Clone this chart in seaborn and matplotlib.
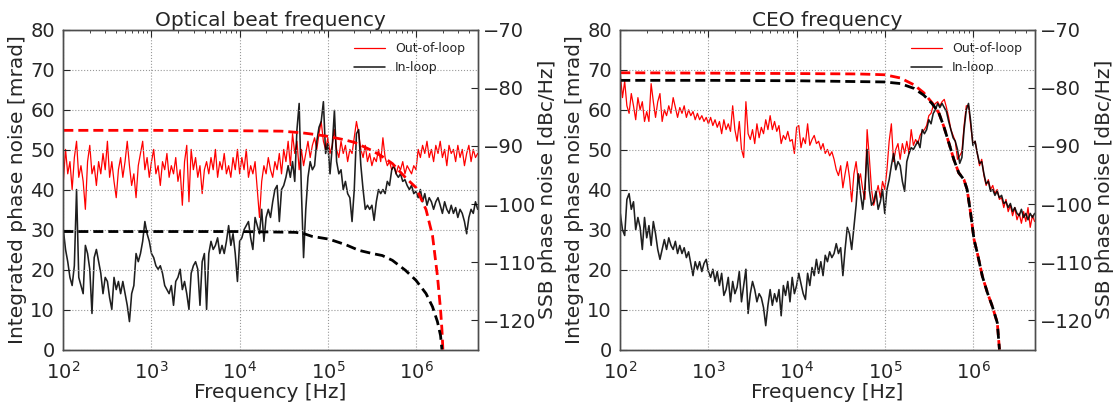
import numpy as np
import pandas as pd
import matplotlib
matplotlib.use("Agg")
import matplotlib.pyplot as plt
import seaborn as sns

# ---------------- data ----------------
# analyzer frequency grid: 40 points per decade from 100 Hz
N_PTS = 189
freq = 10 ** (2 + np.arange(N_PTS) / 40.0)

# Optical beat: SSB phase noise [dBc/Hz]
beat_in_ssb = [
    -104.4, -107.8, -109.9, -112.6, -114.0, -110.6, -97.5, -112.6, -114.0, -115.4,
    -107.1, -108.5, -111.2, -118.8, -109.2, -107.8, -109.9, -111.9, -115.4, -112.6,
    -113.3, -116.1, -118.1, -112.6, -114.7, -113.3, -115.4, -113.3, -115.4, -117.4,
    -120.2, -115.4, -114.0, -108.5, -109.9, -108.5, -106.4, -103.0, -105.1, -106.4,
    -108.5, -109.2, -110.6, -111.2, -110.6, -111.9, -114.0, -114.7, -115.4, -114.0,
    -117.4, -113.3, -112.6, -111.2, -114.7, -113.3, -115.4, -118.1, -111.9, -110.6,
    -109.9, -111.2, -117.4, -109.9, -108.5, -118.1, -108.5, -106.4, -107.8, -107.1,
    -105.8, -108.5, -107.1, -108.5, -106.4, -103.7, -107.1, -105.1, -108.5, -113.3,
    -106.4, -105.8, -104.4, -103.7, -103.0, -105.8, -107.8, -102.3, -103.7, -105.1,
    -100.9, -106.4, -102.3, -100.9, -102.3, -99.6, -97.5, -96.8, -103.0, -97.5,
    -96.8, -95.4, -93.4, -95.4, -92.7, -96.1, -87.2, -82.7, -97.5, -109.2,
    -100.9, -95.4, -92.7, -94.1, -93.4, -89.2, -86.8, -85.8, -82.4, -91.3,
    -89.6, -94.8, -90.2, -83.9, -92.7, -94.8, -94.1, -97.5, -96.1, -98.2,
    -98.9, -103.0, -97.5, -87.9, -87.2, -93.4, -97.5, -100.9, -100.2, -100.9,
    -100.2, -102.8, -99.6, -97.5, -98.2, -97.5, -98.2, -96.1, -96.8, -94.1,
    -93.4, -94.8, -95.4, -94.8, -96.1, -95.8, -96.8, -97.5, -96.8, -98.2,
    -97.8, -98.9, -97.5, -99.6, -98.2, -100.2, -98.9, -99.6, -100.9, -99.6,
    -98.9, -100.2, -101.6, -99.6, -100.9, -101.6, -100.2, -101.6, -100.6, -102.3,
    -100.9, -101.6, -103.0, -105.1, -102.3, -100.9, -101.6, -99.6, -100.9,
]
beat_out_ssb = [
    -96.1, -90.6, -94.8, -92.7, -97.5, -92.0, -89.2, -95.4, -93.4, -96.1,
    -100.9, -92.7, -89.9, -94.8, -93.4, -96.8, -92.7, -94.8, -91.3, -94.1,
    -89.2, -95.4, -92.7, -96.1, -98.9, -94.1, -92.0, -95.4, -92.7, -89.2,
    -93.4, -96.8, -94.8, -98.9, -93.4, -91.3, -89.2, -94.1, -92.0, -95.4,
    -92.7, -90.6, -94.8, -93.4, -96.8, -92.7, -94.1, -91.3, -95.4, -93.4,
    -94.8, -92.0, -96.1, -94.1, -100.2, -92.7, -89.9, -99.6, -90.6, -94.1,
    -92.0, -95.4, -93.4, -98.2, -94.1, -92.7, -94.8, -92.0, -94.1, -90.6,
    -95.4, -92.7, -94.1, -91.3, -94.8, -93.4, -95.4, -92.0, -94.1, -90.6,
    -94.8, -92.0, -94.1, -90.6, -95.4, -93.4, -94.8, -92.7, -97.5, -102.3,
    -96.1, -93.4, -94.8, -92.0, -94.1, -95.4, -92.7, -94.1, -91.3, -94.8,
    -90.6, -92.7, -89.2, -93.4, -87.9, -91.3, -89.2, -94.1, -90.6, -93.4,
    -91.3, -89.2, -92.0, -89.9, -88.6, -90.6, -87.9, -85.8, -89.2, -90.6,
    -88.6, -91.3, -89.9, -87.2, -90.6, -92.0, -89.2, -91.3, -89.9, -92.7,
    -90.6, -91.3, -88.6, -85.8, -87.9, -90.6, -92.0, -89.9, -92.7, -91.3,
    -93.4, -92.0, -92.7, -90.6, -92.7, -88.6, -92.0, -93.4, -92.7, -94.1,
    -93.4, -94.8, -93.4, -94.1, -92.7, -94.8, -93.4, -94.1, -94.8, -93.4,
    -94.1, -90.6, -92.0, -89.9, -91.3, -89.2, -92.0, -90.6, -92.7, -89.9,
    -91.3, -89.2, -92.0, -90.6, -93.4, -89.9, -91.3, -90.6, -92.7, -89.9,
    -92.0, -90.6, -93.4, -91.3, -89.9, -92.7, -90.6, -92.0, -91.3,
]

# CEO: SSB phase noise [dBc/Hz]
ceo_out_ssb = [
    -77.6, -81.7, -78.9, -83.1, -84.4, -81.0, -83.1, -85.5, -81.7, -83.8,
    -82.4, -85.8, -84.1, -85.8, -79.3, -82.4, -85.1, -82.4, -81.0, -85.8,
    -83.8, -84.8, -83.1, -84.4, -81.7, -83.4, -85.1, -83.4, -84.4, -83.1,
    -85.1, -83.8, -84.8, -84.1, -85.5, -84.4, -85.5, -84.8, -85.8, -85.1,
    -86.2, -85.1, -86.5, -85.5, -86.8, -85.8, -87.9, -85.5, -87.2, -86.2,
    -87.5, -83.1, -87.2, -89.2, -85.8, -90.6, -92.0, -82.4, -87.9, -88.9,
    -87.2, -89.6, -86.2, -88.6, -86.8, -87.9, -85.5, -87.2, -84.8, -87.2,
    -85.8, -87.5, -86.5, -89.6, -88.2, -88.9, -87.5, -89.2, -88.9, -91.3,
    -86.8, -86.5, -90.3, -88.6, -89.6, -86.2, -89.9, -88.9, -88.2, -89.6,
    -89.2, -90.6, -89.6, -91.3, -90.6, -91.7, -91.0, -92.3, -94.1, -95.1,
    -93.4, -97.2, -94.8, -92.7, -95.4, -99.6, -94.8, -92.7, -96.1, -94.8,
    -97.5, -99.2, -87.2, -92.0, -97.5, -100.2, -98.5, -96.8, -98.9, -96.1,
    -97.5, -94.1, -89.2, -86.2, -92.7, -90.6, -89.6, -92.3, -89.6, -91.3,
    -89.2, -91.3, -87.2, -89.9, -88.9, -89.6, -88.2, -87.5, -87.2, -86.5,
    -84.8, -84.4, -83.1, -82.7, -82.4, -83.1, -82.4, -82.0, -83.4, -85.1,
    -87.2, -88.2, -89.2, -92.3, -91.7, -91.0, -86.5, -83.1, -83.1, -86.5,
    -89.6, -89.2, -91.3, -93.4, -92.3, -95.1, -96.8, -95.8, -97.5, -96.8,
    -98.2, -97.5, -99.2, -98.9, -100.6, -99.2, -101.3, -100.2, -102.0, -100.6,
    -102.7, -101.6, -103.3, -101.3, -103.0, -100.6, -104.0, -102.0, -103.0,
]
ceo_in_ssb = [
    -101.6, -104.4, -105.4, -99.2, -98.2, -100.9, -99.6, -104.4, -102.3, -104.0,
    -107.8, -102.3, -105.8, -103.7, -107.1, -103.0, -105.1, -107.8, -109.5, -107.8,
    -106.1, -107.8, -105.8, -107.1, -107.8, -106.4, -108.5, -107.1, -108.5, -107.5,
    -109.2, -108.2, -110.2, -112.3, -109.9, -111.2, -109.9, -111.6, -110.2, -109.5,
    -111.6, -112.6, -111.2, -113.3, -111.6, -114.0, -111.9, -115.7, -114.7, -112.6,
    -116.8, -113.3, -115.4, -114.3, -111.6, -116.8, -114.0, -111.2, -118.8, -115.4,
    -113.3, -114.7, -116.8, -115.4, -116.1, -117.8, -120.9, -117.4, -114.7, -117.4,
    -115.4, -116.8, -114.7, -119.2, -114.0, -115.7, -113.3, -116.8, -112.6, -115.4,
    -114.0, -111.9, -113.7, -115.4, -116.4, -111.9, -114.0, -110.9, -112.3, -109.5,
    -111.9, -109.9, -112.3, -108.8, -109.9, -108.2, -109.2, -108.5, -106.8, -108.5,
    -107.5, -112.3, -107.8, -104.0, -105.1, -107.8, -104.0, -100.2, -94.8, -98.2,
    -100.9, -97.2, -90.6, -97.5, -100.2, -99.6, -97.8, -100.9, -99.6, -97.5,
    -101.6, -97.5, -95.8, -93.4, -91.3, -94.1, -92.7, -93.4, -96.1, -97.8,
    -92.7, -91.3, -90.3, -90.6, -89.9, -89.2, -90.3, -87.2, -87.9, -87.2,
    -85.5, -86.2, -84.4, -83.8, -82.7, -83.4, -82.7, -83.4, -84.1, -85.8,
    -87.2, -88.6, -89.2, -90.6, -93.0, -92.0, -87.2, -83.8, -82.7, -85.8,
    -89.9, -89.2, -91.3, -93.0, -92.7, -94.8, -96.5, -96.1, -97.8, -97.5,
    -98.5, -97.8, -98.9, -98.5, -99.9, -99.6, -100.6, -99.9, -101.3, -100.6,
    -101.6, -102.0, -100.9, -102.3, -101.6, -102.7, -101.6, -102.3, -101.6,
]

# Integrated phase noise [mrad]
beat_out_int_f = [1e2, 1e3, 1e4, 3e4, 5e4, 7e4, 1e5, 1.5e5, 2e5, 3e5, 4e5, 5.4e5,
                  7.6e5, 1e6, 1.3e6, 1.54e6, 1.75e6, 1.9e6, 1.97e6, 2.02e6]
beat_out_int = [54.8, 54.8, 54.7, 54.6, 54.2, 53.8, 53.3, 52.5, 51.8, 50.0, 48.5, 46.5,
                43.0, 40.5, 35.0, 28.5, 18.5, 10.0, 5.0, 0.0]
beat_in_int_f = [1e2, 1e3, 1e4, 4.3e4, 5.3e4, 6.6e4, 1.03e5, 1.6e5, 2.25e5, 3.2e5, 4.15e5,
                 5.4e5, 7.6e5, 1e6, 1.3e6, 1.54e6, 1.75e6, 1.9e6, 1.97e6]
beat_in_int = [29.5, 29.5, 29.5, 29.3, 29.0, 28.3, 27.6, 26.2, 24.8, 24.0, 23.5,
               22.3, 19.8, 17.3, 14.0, 10.7, 7.0, 3.5, 0.0]
ceo_out_int_f = [1e2, 1e3, 1e4, 5e4, 1e5, 1.5e5, 2.14e5, 2.77e5, 3.44e5, 4.1e5, 4.67e5,
                 5.33e5, 6.08e5, 6.9e5, 7.9e5, 8.6e5, 9.4e5, 1.03e6, 1.12e6, 1.28e6,
                 1.46e6, 1.66e6, 1.89e6, 2.0e6]
ceo_out_int = [69.2, 69.1, 69.0, 68.9, 68.7, 67.9, 66.2, 64.2, 61.7, 59.2, 55.8,
               51.7, 47.5, 44.2, 42.5, 40.0, 34.2, 27.5, 24.2, 18.3,
               14.2, 10.8, 6.7, 0.0]
ceo_in_int_f = [1e2, 1e3, 1e4, 1e5, 1.5e5, 2.14e5, 2.77e5, 3.44e5, 4.1e5, 4.67e5,
                5.33e5, 6.08e5, 6.9e5, 7.9e5, 8.6e5, 9.4e5, 1.03e6, 1.12e6, 1.28e6,
                1.46e6, 1.66e6, 1.89e6, 2.0e6]
ceo_in_int = [67.3, 67.3, 67.2, 66.9, 66.5, 65.3, 63.6, 61.5, 59.2, 55.8,
              51.7, 47.5, 44.2, 42.5, 40.0, 34.2, 27.5, 24.2, 18.3,
              14.2, 10.8, 6.7, 0.0]

titles = ["Optical beat frequency", "CEO frequency"]
legend_labels = ["Out-of-loop", "In-loop"]
x_label = "Frequency [Hz]"
y_left_label = "Integrated phase noise [mrad]"
y_right_label = "SSB phase noise [dBc/Hz]"

# ---------------- style ----------------
sns.set_style("white")
plt.rcParams["font.family"] = ["DejaVu Sans"]
plt.rcParams["mathtext.fontset"] = "dejavusans"
plt.rcParams["axes.edgecolor"] = "black"
plt.rcParams["axes.linewidth"] = 1.0

fig = plt.figure(figsize=(11.13, 4.05), dpi=100)
positions = [[0.0569, 0.137, 0.3722, 0.790], [0.5573, 0.137, 0.3722, 0.790]]

panels = [
    (beat_out_ssb, beat_in_ssb, beat_out_int_f, beat_out_int, beat_in_int_f, beat_in_int),
    (ceo_out_ssb, ceo_in_ssb, ceo_out_int_f, ceo_out_int, ceo_in_int_f, ceo_in_int),
]

for k, (out_ssb, in_ssb, of, oi, inf, ii) in enumerate(panels):
    ax = fig.add_axes(positions[k])
    ax2 = ax.twinx()

    # solid SSB traces (right axis)
    sns.lineplot(x=freq, y=out_ssb, ax=ax2, color="red", lw=0.9,
                 estimator=None, sort=False, label=legend_labels[0], legend=False)
    sns.lineplot(x=freq, y=in_ssb, ax=ax2, color="black", lw=1.15, alpha=0.88,
                 estimator=None, sort=False, label=legend_labels[1], legend=False)

    # dashed integrated traces (left axis)
    sns.lineplot(x=of, y=oi, ax=ax, color="red", lw=2.0, estimator=None, sort=False,
                 legend=False)
    sns.lineplot(x=inf, y=ii, ax=ax, color="black", lw=2.0, estimator=None, sort=False,
                 legend=False)
    for ln in ax.get_lines():
        ln.set_linestyle((0, (3.6, 1.8)))

    ax.set_zorder(ax2.get_zorder() + 1)
    ax.patch.set_visible(False)

    ax.set_xscale("log")
    ax.set_xlim(100, 5e6)
    ax.set_ylim(0, 80)
    ax2.set_ylim(-125, -70)
    ax.set_yticks(np.arange(0, 81, 10))
    ax2.set_yticks(np.arange(-120, -69, 10))

    ax.grid(True, which="major", ls=":", color="0.6", lw=0.8)
    ax2.grid(False)

    ax.tick_params(axis="both", which="major", direction="in", length=5, labelsize=14,
                   top=True, right=False, pad=6)
    ax.tick_params(axis="x", which="minor", direction="in", length=2.5, top=True)
    ax2.tick_params(axis="y", which="major", direction="in", length=5, labelsize=14,
                    right=True, left=False, pad=4)
    ax.tick_params(axis="x", which="major", pad=8)

    ax.set_xlabel(x_label, fontsize=14.5, labelpad=0)
    ax.set_ylabel(y_left_label, fontsize=14.5, labelpad=2)
    ax2.set_ylabel(y_right_label, fontsize=14.5, labelpad=1)
    ax.set_title(titles[k], fontsize=14.5, pad=2)

    for sp in list(ax.spines.values()) + list(ax2.spines.values()):
        sp.set_color("0.3")

    h, l = ax2.get_legend_handles_labels()
    if ax2.get_legend() is not None:
        ax2.get_legend().remove()
    ax.legend(h, l, loc="upper right", frameon=False, fontsize=9,
              handlelength=2.5, borderaxespad=0.6)

fig.savefig("out.png", dpi=100)
